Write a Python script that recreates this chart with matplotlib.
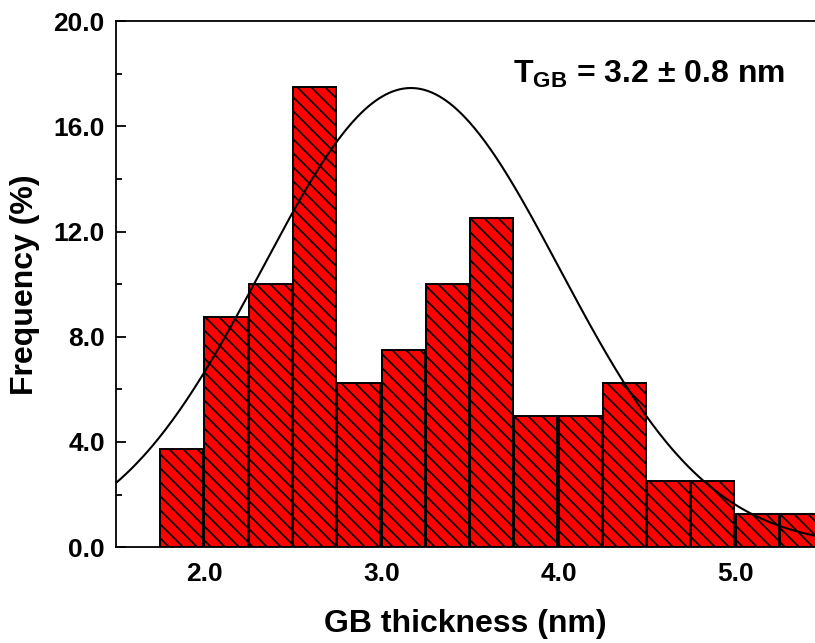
import matplotlib
matplotlib.use('Agg')
import matplotlib.pyplot as plt
import numpy as np

DPI = 84
k = 100 / DPI  # 以 100 dpi 为基准换算字号和线宽

plt.rcParams['font.family'] = ['Liberation Sans', 'DejaVu Sans']
plt.rcParams['font.weight'] = 'bold'
plt.rcParams['mathtext.fontset'] = 'custom'
plt.rcParams['mathtext.rm'] = 'Liberation Sans'
plt.rcParams['mathtext.bf'] = 'Liberation Sans:bold'
plt.rcParams['hatch.linewidth'] = 1.2 * k

# 直方图数据
bin_left = [1.75, 2.0, 2.25, 2.5, 2.75, 3.0, 3.25, 3.5, 3.75, 4.0, 4.25, 4.5, 4.75, 5.0, 5.25]
freq = [3.75, 8.75, 10.0, 17.5, 6.25, 7.5, 10.0, 12.5, 5.0, 5.0, 6.25, 2.5, 2.5, 1.25, 1.25]
bin_width = 0.25

# 高斯拟合参数
fit_center = 3.166
fit_sigma = 0.84
fit_amp = 17.46

fig = plt.figure(figsize=(815 / DPI, 643 / DPI), dpi=DPI)
ax = fig.add_axes([0.1423, 0.149, 0.858, 0.818])

ax.bar(bin_left, freq, width=bin_width * 0.975, align='edge', color='#ff0000',
       edgecolor='black', linewidth=1.4 * k, hatch='\\\\', zorder=2)

xf = np.linspace(1.5, 5.5, 400)
yf = fit_amp * np.exp(-(xf - fit_center) ** 2 / (2 * fit_sigma ** 2))
ax.plot(xf, yf, color='black', linewidth=1.5 * k, zorder=3)

ax.set_xlim(1.5, 5.45)
ax.set_ylim(0, 20)
ax.set_xticks([2.0, 3.0, 4.0, 5.0])
ax.set_xticklabels(['2.0', '3.0', '4.0', '5.0'])
ax.set_yticks([0, 4, 8, 12, 16, 20])
ax.set_yticklabels(['0.0', '4.0', '8.0', '12.0', '16.0', '20.0'])
ax.set_yticks([2, 6, 10, 14, 18], minor=True)
ax.tick_params(axis='both', which='major', direction='in', length=7 * k, width=1.3 * k,
               labelsize=19 * k)
ax.tick_params(axis='y', which='major', pad=8 * k)
ax.tick_params(axis='x', which='major', pad=11 * k)
ax.tick_params(axis='y', which='minor', direction='in', length=4 * k, width=1.3 * k)
ax.spines['right'].set_visible(False)
for s in ['left', 'top', 'bottom']:
    ax.spines[s].set_linewidth(1.3 * k)

ax.set_xlabel('GB thickness (nm)', fontsize=23 * k, fontweight='bold', labelpad=16 * k)
ax.set_ylabel('Frequency (%)', fontsize=23 * k, fontweight='bold', labelpad=10 * k)

ax.text(513 / 815, 1 - 83 / 643, r'T$_{\mathbf{GB}}$ = 3.2 $\pm$ 0.8 nm',
        transform=fig.transFigure, fontsize=23 * k, fontweight='bold',
        ha='left', va='baseline')

plt.savefig('out.png', dpi=DPI)
plt.close()
